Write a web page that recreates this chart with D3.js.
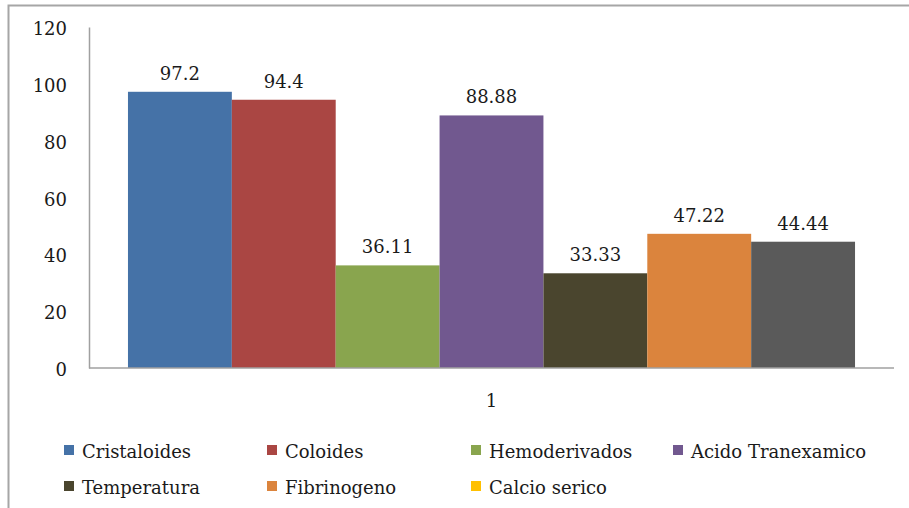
<!DOCTYPE html>
<html>
<head>
<meta charset="utf-8">
<script src="https://cdn.jsdelivr.net/npm/d3@7"></script>
<style>
  html, body { margin: 0; padding: 0; background: #fff; }
  svg { display: block; }
  text { font-family: "DejaVu Serif", serif; fill: #1a1a1a; }
</style>
</head>
<body>
<svg id="chart" width="909" height="508"></svg>
<script>
// Chart data
const categories = ["1"];
const seriesNames = ["Cristaloides", "Coloides", "Hemoderivados", "Acido Tranexamico",
                     "Temperatura", "Fibrinogeno", "Calcio serico"];
const seriesValues = [97.2, 94.4, 36.11, 88.88, 33.33, 47.22, 44.44];
const barColors = ["#4572A7", "#AA4643", "#89A54E", "#71588F", "#4A452E", "#DB843D", "#5A5A5A"];
const legendColors = ["#4572A7", "#AA4643", "#89A54E", "#71588F", "#4A452E", "#DB843D", "#FFC000"];
const yTicks = [0, 20, 40, 60, 80, 100, 120];

const svg = d3.select("#chart");

// Outer chart frame (extends past the right and bottom edges)
svg.append("path")
  .attr("d", "M8.5,520 V5.5 H920")
  .attr("fill", "none")
  .attr("stroke", "#a6a6a6")
  .attr("stroke-width", 2);

const plot = { left: 89, right: 894, top: 27, bottom: 368 };

const y = d3.scaleLinear().domain([0, 120]).range([plot.bottom, plot.top]);
const x0 = d3.scaleBand().domain(categories).range([plot.left, plot.right])
  .paddingInner(0).paddingOuter(0.0536);
const x1 = d3.scaleBand().domain(seriesNames).range([0, x0.bandwidth()]).padding(0);

// Y axis labels
const yAxis = d3.axisLeft(y).tickValues(yTicks).tickSize(0).tickPadding(22);
const gy = svg.append("g").attr("transform", `translate(${plot.left},0)`).call(yAxis);
gy.select(".domain").attr("stroke", "#a0a0a0").attr("stroke-width", 1.5);
gy.selectAll("text")
  .attr("font-family", "DejaVu Serif")
  .attr("font-size", 18)
  .attr("fill", "#1a1a1a")
  .attr("dy", "0.42em");

// Bars
const groups = svg.append("g").selectAll("g")
  .data(categories)
  .join("g")
  .attr("transform", d => `translate(${x0(d)},0)`);

groups.selectAll("rect")
  .data(() => seriesNames.map((name, i) => ({ name, value: seriesValues[i], color: barColors[i] })))
  .join("rect")
  .attr("x", d => x1(d.name))
  .attr("y", d => y(d.value))
  .attr("width", x1.bandwidth())
  .attr("height", d => y(0) - y(d.value))
  .attr("fill", d => d.color);

// Value labels
groups.selectAll("text.val")
  .data(() => seriesNames.map((name, i) => ({ name, value: seriesValues[i] })))
  .join("text")
  .attr("class", "val")
  .attr("x", d => x1(d.name) + x1.bandwidth() / 2)
  .attr("y", d => y(d.value) - 12)
  .attr("text-anchor", "middle")
  .attr("font-size", 18)
  .text(d => String(d.value));

// X axis
const xAxis = d3.axisBottom(x0).tickSize(0).tickPadding(0);
const gx = svg.append("g").attr("transform", `translate(0,${plot.bottom})`).call(xAxis);
gx.select(".domain").attr("d", `M${plot.left},0H${plot.right}`)
  .attr("stroke", "#a0a0a0").attr("stroke-width", 1.5);
gx.selectAll("text")
  .attr("font-family", "DejaVu Serif")
  .attr("font-size", 18)
  .attr("fill", "#1a1a1a")
  .attr("y", 39)
  .attr("dy", 0);

// Legend: four columns, two rows
const legendCols = [64, 267, 471, 673];
const legendRows = [458, 494];
const legend = svg.append("g").selectAll("g")
  .data(seriesNames.map((name, i) => ({ name, color: legendColors[i], i })))
  .join("g")
  .attr("transform", d => `translate(${legendCols[d.i % 4]},${legendRows[Math.floor(d.i / 4)]})`);

legend.append("rect")
  .attr("x", 0).attr("y", -13)
  .attr("width", 10).attr("height", 10)
  .attr("fill", d => d.color);

legend.append("text")
  .attr("x", 18).attr("y", 0)
  .attr("font-size", 18)
  .text(d => d.name);
</script>
</body>
</html>
